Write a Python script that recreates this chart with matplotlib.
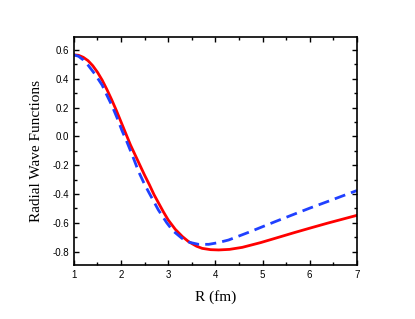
import matplotlib
matplotlib.use("Agg")
import matplotlib.pyplot as plt
from matplotlib.ticker import MultipleLocator

# radial wave functions
r_red = [1.0, 1.1, 1.2, 1.3, 1.4, 1.5, 1.6, 1.7, 1.8, 1.9, 2.0, 2.1, 2.2, 2.3, 2.4, 2.5,
         2.6, 2.7, 2.8, 2.9, 3.0, 3.15, 3.3, 3.43, 3.6, 3.72, 3.9, 4.07, 4.3, 4.57, 4.96,
         5.28, 5.67, 6.0, 6.38, 7.0]
u_red = [0.565, 0.562, 0.548, 0.525, 0.49, 0.445, 0.39, 0.325, 0.255, 0.18, 0.10, 0.02,
         -0.06, -0.13, -0.20, -0.27, -0.335, -0.405, -0.465, -0.525, -0.58, -0.645, -0.695,
         -0.73, -0.762, -0.777, -0.786, -0.788, -0.784, -0.77, -0.737, -0.706, -0.668,
         -0.637, -0.602, -0.548]

r_blue = [1.0, 1.1, 1.2, 1.31, 1.45, 1.6, 1.7, 1.81, 1.92, 2.02, 2.12, 2.25, 2.37, 2.48,
          2.58, 2.79, 2.97, 3.1, 3.29, 3.45, 3.64, 3.86, 4.05, 4.28, 4.71, 4.96, 5.28, 5.67,
          6.0, 6.38, 7.0]
u_blue = [0.565, 0.555, 0.53, 0.49, 0.43, 0.355, 0.285, 0.211, 0.125, 0.04, -0.035, -0.14,
          -0.243, -0.32, -0.383, -0.51, -0.60, -0.655, -0.707, -0.735, -0.749, -0.749, -0.738,
          -0.719, -0.665, -0.632, -0.59, -0.54, -0.498, -0.452, -0.376]

xticks = [1, 2, 3, 4, 5, 6, 7]
yticks = [-0.8, -0.6, -0.4, -0.2, 0.0, 0.2, 0.4, 0.6]

fig = plt.figure(figsize=(4.15, 3.19), dpi=100)
ax = fig.add_axes([0.178, 0.169, 0.682, 0.715])

ax.plot(r_red, u_red, color="#ff0000", lw=2.0, solid_joinstyle="round")
ax.plot(r_blue, u_blue, color="#2040ff", lw=2.0, ls=(0, (4, 2.2)))

ax.set_xlim(1, 7)
ax.set_ylim(-0.893, 0.689)
ax.set_xticks(xticks)
ax.set_yticks(yticks)
ax.set_yticklabels(["%.1f" % v for v in yticks])
ax.xaxis.set_minor_locator(MultipleLocator(0.5))
ax.yaxis.set_minor_locator(MultipleLocator(0.1))

ax.tick_params(which="both", direction="in", top=True, right=True,
               labelsize=7, labelfontfamily="Liberation Sans", width=1.0)
ax.tick_params(which="major", length=3.5)
ax.tick_params(which="minor", length=2)
for s in ax.spines.values():
    s.set_linewidth(1.2)

ax.set_xlabel("R (fm)", family="Liberation Serif", fontsize=11, labelpad=7)
ax.set_ylabel("Radial Wave Functions", family="Liberation Serif", fontsize=11, labelpad=7)

fig.savefig("out.png", dpi=100)
